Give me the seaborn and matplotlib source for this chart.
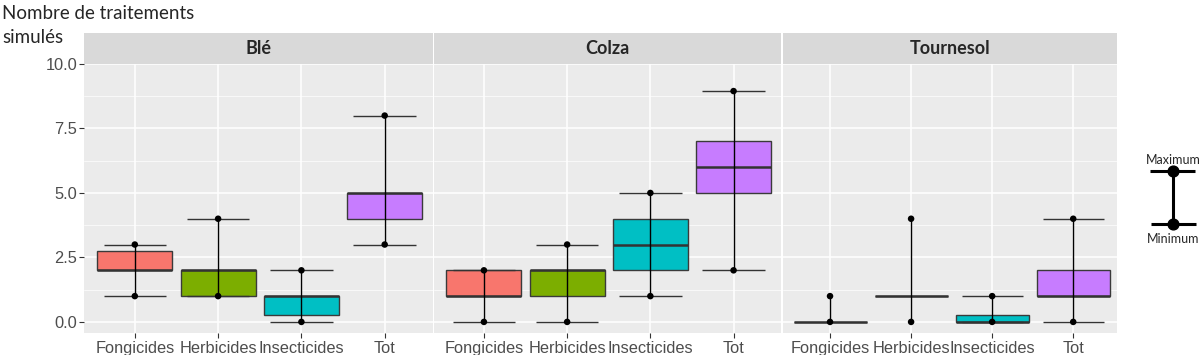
import matplotlib
matplotlib.use("Agg")
import matplotlib.pyplot as plt
import numpy as np
import pandas as pd
import seaborn as sns
from matplotlib.patches import Rectangle

cultures = ["Blé", "Colza", "Tournesol"]
categories = ["Fongicides", "Herbicides", "Insecticides", "Tot"]
palette = ["#F8766D", "#7CAE00", "#00BFC4", "#C77CFF"]

# min / q1 / median / q3 / max for each culture, in category order
min_ble = [1, 1, 0, 3]
q1_ble = [2, 1, 0.25, 4]
med_ble = [2, 2, 1, 5]
q3_ble = [2.75, 2, 1, 5]
max_ble = [3, 4, 2, 8]

min_colza = [0, 0, 1, 2]
q1_colza = [1, 1, 2, 5]
med_colza = [1, 2, 3, 6]
q3_colza = [2, 2, 4, 7]
max_colza = [2, 3, 5, 8.95]

min_tournesol = [0, 0, 0, 0]
q1_tournesol = [0, 1, 0, 1]
med_tournesol = [0, 1, 0, 1]
q3_tournesol = [0, 1, 0.25, 2]
max_tournesol = [1, 4, 1, 4]

caps_ble = [True, True, True, True]
caps_colza = [True, True, True, True]
caps_tournesol = [False, False, True, True]

frames = []
for culture, mn, q1, med, q3, mx, caps in [
    ("Blé", min_ble, q1_ble, med_ble, q3_ble, max_ble, caps_ble),
    ("Colza", min_colza, q1_colza, med_colza, q3_colza, max_colza, caps_colza),
    ("Tournesol", min_tournesol, q1_tournesol, med_tournesol, q3_tournesol,
     max_tournesol, caps_tournesol),
]:
    frames.append(pd.DataFrame({
        "culture": culture, "type": categories, "min": mn, "q1": q1,
        "med": med, "q3": q3, "max": mx, "caps": caps,
    }))
df = pd.concat(frames, ignore_index=True)
df["x"] = df["type"].map({c: i for i, c in enumerate(categories)})

sns.set_theme(style="darkgrid", rc={
    "axes.facecolor": "#EBEBEB",
    "grid.color": "white",
    "axes.edgecolor": "none",
})
plt.rcParams["font.family"] = ["Liberation Sans", "DejaVu Sans"]
TICK_FONT = ["Liberation Sans", "DejaVu Sans"]
LABEL_FONT = ["Lato", "DejaVu Sans"]

fig = plt.figure(figsize=(12, 3.55), dpi=100)
W, H = 1200, 355
panels = [(84, 433), (434, 781), (783, 1117)]
top, bottom = 64, 333
xlims = [(-0.61, 3.58), (-0.6, 3.57), (-0.58, 3.54)]

for i, culture in enumerate(cultures):
    x0, x1 = panels[i]
    ax = fig.add_axes([x0 / W, 1 - bottom / H, (x1 - x0) / W, (bottom - top) / H])
    sub = df[df["culture"] == culture]

    stats = [
        {"whislo": r.q1, "q1": r.q1, "med": r.med, "q3": r.q3, "whishi": r.q3,
         "fliers": []}
        for r in sub.itertuples()
    ]
    bp = ax.bxp(stats, positions=sub["x"].tolist(), widths=0.9,
                showcaps=False, patch_artist=True, manage_ticks=False,
                boxprops=dict(edgecolor="#3a3a3a", linewidth=1.0),
                medianprops=dict(color="#333333", linewidth=1.8),
                whiskerprops=dict(linewidth=0))
    for patch, col in zip(bp["boxes"], palette):
        patch.set_facecolor(col)

    ax.vlines(sub["x"], sub["min"], sub["max"], color="black", linewidth=1.0,
              zorder=4)
    capped = sub[sub["caps"]]
    for col in ["min", "max"]:
        ax.hlines(capped[col], capped["x"] - 0.375, capped["x"] + 0.375,
                  color="#333333", linewidth=1.0, zorder=3)
    long = sub.melt(id_vars=["x"], value_vars=["min", "max"], value_name="v")
    sns.scatterplot(data=long, x="x", y="v", ax=ax, color="black", s=22,
                    edgecolor="none", zorder=5, legend=False)

    ax.set_xlim(*xlims[i])
    ax.set_ylim(-0.43, 10.0)
    ax.set_xticks(range(len(categories)))
    ax.set_xticklabels(categories, fontsize=11.8, color="#4D4D4D",
                       family=TICK_FONT)
    ax.set_yticks([0, 2.5, 5, 7.5, 10])
    ax.set_yticks([1.25, 3.75, 6.25, 8.75], minor=True)
    ax.grid(which="major", color="white", linewidth=1.1)
    ax.grid(which="minor", axis="y", color="white", linewidth=0.5)
    ax.tick_params(axis="x", length=3.5, width=0.8, color="#333333", pad=2,
                   bottom=True)
    ax.tick_params(axis="y", which="major", length=3.5, width=0.8,
                   color="#333333", pad=1.5, left=(i == 0))
    ax.tick_params(axis="y", which="minor", length=0, left=False)
    if i == 0:
        ax.set_yticklabels(["0.0", "2.5", "5.0", "7.5", "10.0"], fontsize=11.8,
                           color="#4D4D4D", family=TICK_FONT)
    else:
        ax.set_yticklabels([])
    ax.set_xlabel("")
    ax.set_ylabel("")

    # facet strip
    strip_h = 31 / (bottom - top)
    ax.add_patch(Rectangle((0, 1), 1, strip_h, transform=ax.transAxes,
                           facecolor="#D9D9D9", edgecolor="none", clip_on=False))
    ax.text(0.5, 1 + strip_h / 2, culture, transform=ax.transAxes,
            ha="center", va="center", fontsize=13, fontweight="bold",
            family=LABEL_FONT)

fig.text(2 / W, 1 - 19 / H, "Nombre de traitements", fontsize=13.5,
         family=LABEL_FONT, va="baseline", ha="left")
fig.text(2 / W, 1 - 43 / H, "simulés", fontsize=13.5,
         family=LABEL_FONT, va="baseline", ha="left")

# key on the right
key = fig.add_axes([0, 0, 1, 1], facecolor="none")
key.set_xlim(0, W)
key.set_ylim(H, 0)
key.axis("off")
key.vlines(1173, 171, 224, color="black", linewidth=2.2)
key.hlines([171, 224], [1150, 1151], [1195, 1196], color="black", linewidth=2.2)
key.scatter([1173, 1173], [171, 224], s=60, color="black", zorder=3)
key.text(1173, 160, "Maximum", ha="center", va="center", fontsize=9,
         family=LABEL_FONT)
key.text(1173, 239, "Minimum", ha="center", va="center", fontsize=9,
         family=LABEL_FONT)

fig.savefig("out.png", dpi=100)
